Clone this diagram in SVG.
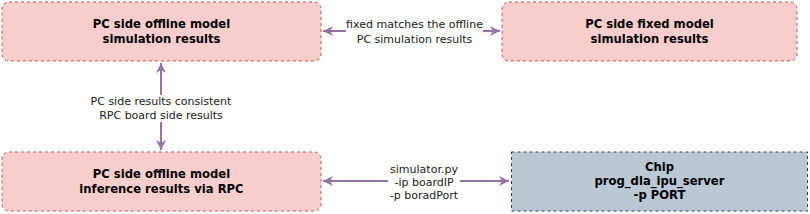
<svg xmlns="http://www.w3.org/2000/svg" width="810" height="214" viewBox="0 0 810 214">
<style>
.node{fill:#f8cecc;stroke:#b85450;stroke-width:1;stroke-dasharray:3 3}
.chip{fill:#bac8d3;stroke:#23445d;stroke-width:1;stroke-dasharray:3 3}
.nt{font-family:"DejaVu Sans",sans-serif;font-weight:bold;font-size:11.6px;text-anchor:middle;fill:#000}
.el{font-family:"DejaVu Sans",sans-serif;font-size:11px;text-anchor:middle;fill:#1a1a1a}
.edge{stroke:#9673a6;stroke-width:2;fill:none}
.lbg{fill:#fff}
</style>
<defs>
<marker id="ah" viewBox="0 0 10 10" refX="10" refY="5" markerWidth="5" markerHeight="5" orient="auto-start-reverse" markerUnits="strokeWidth">
<path d="M0,0 L10,5 L0,10 L3,5 Z" fill="#9673a6"/>
</marker>
</defs>
<g id="connectors">
<path class="edge" d="M323,31 H500" marker-start="url(#ah)" marker-end="url(#ah)"/>
<path class="edge" d="M161,63 V150" marker-start="url(#ah)" marker-end="url(#ah)"/>
<path class="edge" d="M323,181 H509" marker-start="url(#ah)" marker-end="url(#ah)"/>
<rect class="lbg" x="346" y="18" width="137" height="28"/>
<text class="el" x="414.5" y="28.3">fixed matches the offline</text>
<text class="el" x="414.5" y="42.5">PC simulation results</text>
<rect class="lbg" x="90" y="95" width="142" height="27"/>
<text class="el" x="161" y="105">PC side results consistent</text>
<text class="el" x="161" y="118.5">RPC board side results</text>
<rect class="lbg" x="388" y="161" width="72" height="41"/>
<text class="el" x="424" y="172.5">simulator.py</text>
<text class="el" x="424" y="185.5">-ip boardIP</text>
<text class="el" x="424" y="198.7">-p boradPort</text>
</g>
<g id="node1">
<rect class="node" x="2" y="2" width="319" height="59" rx="7"/>
<text class="nt" x="161.5" y="28.3">PC side offline model</text>
<text class="nt" x="161.5" y="42.5">simulation results</text>
</g>
<g id="node2">
<rect class="node" x="502" y="2" width="295" height="59" rx="7"/>
<text class="nt" x="649.5" y="28.3">PC side fixed model</text>
<text class="nt" x="649.5" y="42.5">simulation results</text>
</g>
<g id="node3">
<rect class="node" x="2" y="152" width="319" height="59" rx="7"/>
<text class="nt" x="161.5" y="178.3">PC side offline model</text>
<text class="nt" x="161.5" y="192.5">inference results via RPC</text>
</g>
<g id="node4">
<rect class="chip" x="511.5" y="152" width="296" height="59"/>
<text class="nt" x="659.5" y="171">Chip</text>
<text class="nt" x="659.5" y="185">prog_dla_ipu_server</text>
<text class="nt" x="659.5" y="199.3">-p PORT</text>
</g>
</svg>
